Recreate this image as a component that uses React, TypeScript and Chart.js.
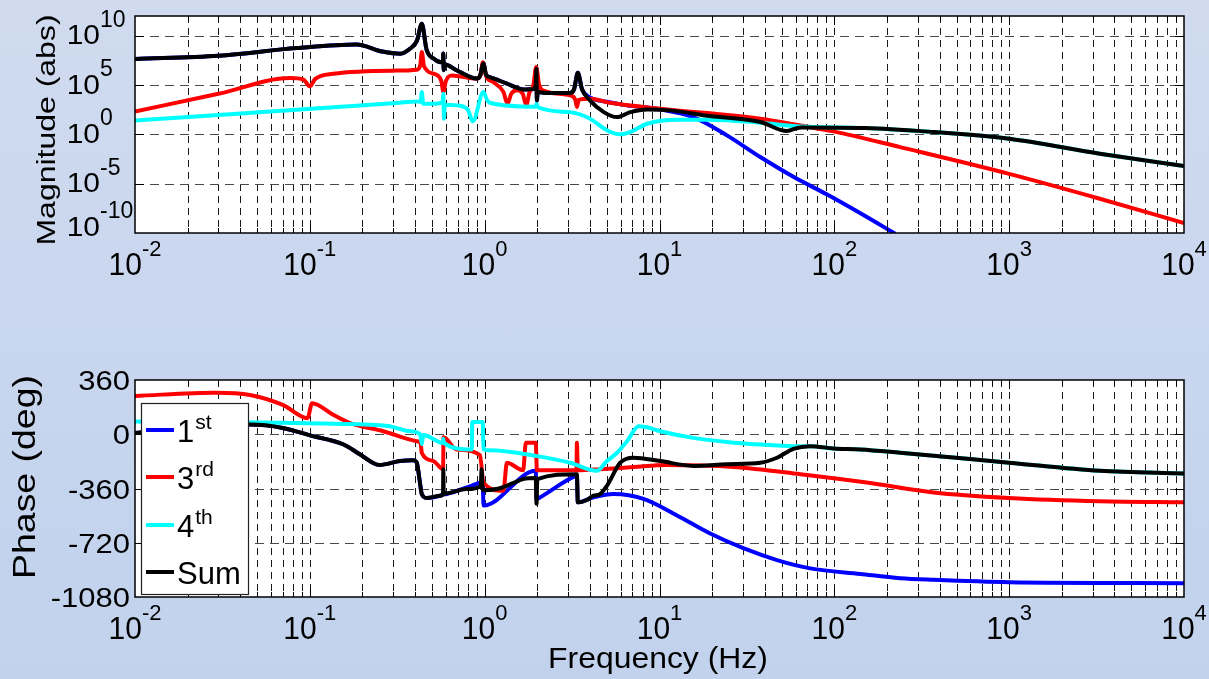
import React, { useEffect, useRef } from "react";
import { Chart, registerables } from "chart.js";

Chart.register(...registerables);

const W = 1209;
const H = 679;
const FONT = '"Liberation Sans", Arial, Helvetica, sans-serif';

// ---- axis settings ----
const freqMin = 0.01;
const freqMax = 10000;
const freqDecades = [-2, -1, 0, 1, 2, 3, 4];
const magMin = 1e-10;
const magMax = 1e12;
const magTickExps = [-10, -5, 0, 5, 10];
const phaseMin = -1080;
const phaseMax = 360;
const phaseTicks = [-1080, -720, -360, 0, 360];

// ---- series ----
const seriesBase = ["1", "3", "4", "Sum"];
const seriesSup = ["st", "rd", "th", ""];
const seriesColors = ["#0000ff", "#ff0000", "#00ffff", "#000000"];

// Magnitude (abs) : [Hz, value]
const magSum: [number, number][] = [
  [0.01, 4.4e7], [0.03, 9.5e7], [0.084, 5.6e8], [0.185, 1.3e9], [0.26, 2.5e8],
  [0.33, 1.5e8], [0.375, 5.0e8], [0.41, 3.2e9], [0.437, 1.6e11], [0.465, 4.0e8],
  [0.51, 4.8e7], [0.565, 2.0e7], [0.578, 2.0e7], [0.58, 1.6e8], [0.583, 3.2e6],
  [0.588, 1.3e7], [0.69, 3.2e6], [0.9, 4.5e5], [0.94, 7.9e5], [0.984, 1.5e7],
  [1.02, 1.0e6], [1.07, 6.3e5], [1.34, 1.4e5], [1.67, 3.6e4], [1.9, 4.0e4],
  [1.96, 1.0e5], [1.975, 4.6e6], [1.99, 2.8e3], [2.01, 2.0e4], [2.27, 1.6e4],
  [3.08, 1.6e4], [3.25, 4.0e4], [3.41, 1.8e6], [3.6, 4.0e4], [4.0, 2.8e3],
  [4.8, 1.8e2], [5.7, 56], [6.8, 1.8e2], [8.5, 3.4e2], [11.5, 2.7e2],
  [19.5, 72], [37.7, 18], [53.5, 2.2], [64, 5.0], [150, 4.4],
  [370, 1.7], [1000, 0.36], [3300, 1.1e-2], [10000, 6.2e-4],
];
const mag1st: [number, number][] = [
  [0.01, 4.4e7], [0.03, 9.5e7], [0.084, 5.6e8], [0.185, 1.3e9], [0.26, 2.5e8],
  [0.33, 1.5e8], [0.375, 5.0e8], [0.41, 3.2e9], [0.437, 1.6e11], [0.465, 4.0e8],
  [0.51, 4.8e7], [0.565, 2.0e7], [0.578, 2.0e7], [0.58, 1.6e8], [0.583, 3.2e6],
  [0.588, 1.3e7], [0.69, 3.2e6], [0.9, 4.5e5], [0.94, 7.9e5], [0.984, 1.5e7],
  [1.02, 1.0e6], [1.07, 6.3e5], [1.34, 1.4e5], [1.67, 3.6e4], [1.9, 4.0e4],
  [1.96, 1.0e5], [1.975, 4.6e6], [1.99, 2.8e3], [2.01, 2.0e4], [2.27, 1.6e4],
  [3.08, 1.6e4], [3.25, 4.0e4], [3.41, 1.8e6], [3.6, 4.0e4], [4.0, 5.6e3],
  [5.0, 2.0e3], [6.5, 8.7e2], [10.1, 3.4e2], [15.6, 56], [24.3, 0.79],
  [37.7, 5.0e-3], [58.3, 5.0e-5], [91, 7.9e-7], [141, 1.0e-8], [223, 8.5e-11],
];
const mag3rd: [number, number][] = [
  [0.01, 2.1e2], [0.03, 1.3e4], [0.077, 5.1e5], [0.092, 3.5e5], [0.1, 7.4e4],
  [0.107, 4.0e5], [0.136, 1.4e6], [0.314, 2.9e6], [0.41, 3.6e6], [0.428, 1.0e7],
  [0.437, 2.2e8], [0.45, 7.9e6], [0.53, 1.1e6], [0.565, 2.5e5], [0.581, 2.0e4],
  [0.6, 2.5e5], [0.65, 9.5e5], [0.9, 4.5e5], [0.95, 1.3e6], [0.976, 2.1e7],
  [1.02, 7.9e5], [1.12, 2.0e5], [1.28, 2.0e4], [1.35, 1.3e3], [1.42, 1.3e4],
  [1.53, 2.9e4], [1.65, 1.3e4], [1.73, 8.7e2], [1.8, 1.6e4], [1.9, 1.0e5],
  [1.97, 6.8e6], [2.05, 1.0e5], [2.15, 2.9e4], [3.08, 9.1e3], [3.3, 3.2e3],
  [3.37, 5.9e2], [3.45, 3.2e3], [4.0, 4.2e3], [5.2, 1.6e3], [10.1, 4.0e2],
  [37.7, 39], [64, 8.1], [99, 2.0], [238, 5.1e-2], [1000, 1.0e-4],
  [3300, 3.0e-7], [10000, 1.0e-9],
];
const mag4th: [number, number][] = [
  [0.01, 26], [0.314, 1.5e3], [0.41, 2.2e3], [0.43, 2.0e3], [0.437, 2.0e4],
  [0.445, 1.3e3], [0.53, 1.3e3], [0.575, 2.0e3], [0.58, 1.3e4], [0.585, 39],
  [0.592, 1.0e3], [0.69, 8.7e2], [0.8, 3.2e2], [0.855, 21], [0.984, 2.0e4],
  [1.03, 3.2e3], [1.07, 1.6e3], [1.95, 6.3e2], [1.98, 1.3e3], [2.02, 5.6e2],
  [3.08, 1.8e2], [4.0, 39], [5.0, 2.6], [5.96, 1.0], [6.8, 1.7],
  [8.5, 12], [12.6, 31], [19.5, 31], [37.7, 15], [64, 6.3],
  [150, 4.4], [370, 1.7], [1000, 0.36], [3300, 1.1e-2], [10000, 6.2e-4],
];

// Phase (deg) : [Hz, value]
const phaseSum: [number, number][] = [
  [0.01, 9], [0.02, 38], [0.0455, 64], [0.07, 42], [0.1, -7],
  [0.156, -68], [0.194, -134], [0.25, -204], [0.328, -178], [0.39, -173],
  [0.409, -189], [0.424, -300], [0.437, -397], [0.466, -423], [0.556, -408],
  [0.578, -400], [0.58, -232], [0.583, -395], [0.79, -364], [0.95, -345],
  [0.96, -232], [0.975, -372], [1.19, -362], [1.45, -325], [1.66, -298],
  [1.96, -291], [1.98, -462], [2.0, -298], [3.37, -265], [3.41, -452],
  [3.84, -436], [4.19, -408], [4.57, -397], [5.0, -342], [5.2, -309],
  [5.96, -189], [7.1, -156], [10.1, -178], [15.6, -210], [24.3, -199],
  [37.7, -189], [47, -156], [58.3, -97], [72.8, -79], [99, -94],
  [141, -101], [238, -123], [1000, -189], [3300, -243], [10000, -261],
];
const phase1st: [number, number][] = [
  [0.01, 9], [0.02, 38], [0.0455, 64], [0.07, 42], [0.1, -7],
  [0.156, -68], [0.194, -134], [0.25, -204], [0.328, -178], [0.39, -173],
  [0.409, -189], [0.424, -300], [0.437, -397], [0.466, -423], [0.556, -408],
  [0.578, -400], [0.6, -398], [0.84, -342], [0.975, -318], [0.985, -473],
  [1.96, -243], [1.98, -430], [2.07, -419], [3.3, -278], [3.37, -276],
  [3.41, -452], [4.19, -419], [5.45, -397], [8.1, -429], [12.6, -539],
  [19.5, -659], [30.4, -758], [47, -835], [72.8, -890], [141, -927],
  [238, -955], [370, -966], [1000, -982], [10000, -988],
];
const phase3rd: [number, number][] = [
  [0.01, 254], [0.029, 276], [0.0455, 261], [0.07, 195], [0.097, 107],
  [0.103, 206], [0.136, 129], [0.17, 74], [0.263, 20], [0.409, -46],
  [0.43, -60], [0.437, -123], [0.51, -178], [0.578, -232], [0.582, -20],
  [0.69, -101], [0.94, -138], [0.984, -320], [1.28, -375], [1.34, -189],
  [1.66, -239], [1.72, -57], [1.96, -57], [1.99, -239], [3.35, -239],
  [3.37, -57], [3.41, -239], [4.57, -232], [7.1, -217], [11, -204],
  [26.5, -217], [64, -265], [153, -320], [370, -386], [1000, -423],
  [3300, -445], [10000, -452],
];
const phase4th: [number, number][] = [
  [0.01, 85], [0.136, 70], [0.28, 55], [0.374, 20], [0.428, -2],
  [0.437, -66], [0.445, -5], [0.578, -57], [0.58, -30], [0.583, -57],
  [0.843, -101], [0.85, 81], [0.975, 81], [0.984, -101], [1.07, -107],
  [1.99, -145], [3.08, -189], [4.38, -243], [5.0, -178], [5.72, -123],
  [6.52, -46], [7.6, 53], [8.45, 46], [10.1, 20], [15.6, -24],
  [24.3, -51], [37.7, -68], [58.3, -79], [72.8, -80], [99, -94],
  [141, -101], [238, -123], [1000, -189], [3300, -243], [10000, -261],
];

// ---- layout (pixels) ----
const PLOT_LEFT = 135;
const PLOT_RIGHT = 1184;
const MAG_TOP = 16;
const MAG_BOTTOM = 233;
const PH_TOP = 380;
const PH_BOTTOM = 597;

type Kind = "mag" | "phase";

function drawText(
  ctx: CanvasRenderingContext2D,
  s: string,
  x: number,
  y: number,
  size: number,
  o: { sx?: number; sy?: number; align?: CanvasTextAlign; rot?: number } = {}
) {
  ctx.save();
  ctx.translate(x, y);
  if (o.rot) ctx.rotate(o.rot);
  ctx.scale(o.sx ?? 1, o.sy ?? 1);
  ctx.font = `${size}px ${FONT}`;
  ctx.textAlign = o.align ?? "left";
  ctx.textBaseline = "alphabetic";
  ctx.fillStyle = "#000";
  ctx.fillText(s, 0, 0);
  ctx.restore();
}

function measure(ctx: CanvasRenderingContext2D, s: string, size: number) {
  ctx.save();
  ctx.font = `${size}px ${FONT}`;
  const w = ctx.measureText(s).width;
  ctx.restore();
  return w;
}

function seg(ctx: CanvasRenderingContext2D, x1: number, y1: number, x2: number, y2: number) {
  ctx.beginPath();
  ctx.moveTo(x1, y1);
  ctx.lineTo(x2, y2);
  ctx.stroke();
}

function xGridValues() {
  const out: { v: number; major: boolean }[] = [];
  for (const d of freqDecades) {
    for (let m = 1; m <= 9; m++) {
      const v = m * Math.pow(10, d);
      if (v > freqMax * 1.0001) continue;
      out.push({ v, major: m === 1 });
    }
  }
  return out;
}

function yGridValues(kind: Kind) {
  return kind === "mag" ? magTickExps.map((e) => Math.pow(10, e)) : phaseTicks;
}

function panelPlugin(kind: Kind) {
  return {
    id: "panel-" + kind,
    beforeDatasetsDraw(chart: any) {
      const { ctx, chartArea: a } = chart;
      const xs = chart.scales.x;
      const ys = chart.scales.y;
      ctx.save();
      ctx.fillStyle = "#ffffff";
      ctx.fillRect(a.left, a.top, a.right - a.left, a.bottom - a.top);
      ctx.lineWidth = 1;
      ctx.strokeStyle = "#1a1a1a";
      ctx.setLineDash([7, 5]);
      for (const g of xGridValues()) {
        const px = xs.getPixelForValue(g.v);
        if (px < a.left + 1 || px > a.right - 1) continue;
        const x = Math.round(px) + 0.5;
        seg(ctx, x, a.top, x, a.bottom);
      }
      ctx.strokeStyle = "#4a4a4a";
      ctx.setLineDash([9, 6]);
      for (const v of yGridValues(kind)) {
        const py = ys.getPixelForValue(v);
        if (py < a.top + 1 || py > a.bottom - 1) continue;
        const y = Math.round(py) + 0.5;
        seg(ctx, a.left, y, a.right, y);
      }
      ctx.restore();
    },
    afterDatasetsDraw(chart: any) {
      const { ctx, chartArea: a } = chart;
      const xs = chart.scales.x;
      const ys = chart.scales.y;
      ctx.save();
      // inward tick marks
      ctx.setLineDash([]);
      ctx.strokeStyle = "#000";
      ctx.lineWidth = 1;
      for (const g of xGridValues()) {
        const px = xs.getPixelForValue(g.v);
        if (px < a.left + 1 || px > a.right - 1) continue;
        const x = Math.round(px) + 0.5;
        const L = g.major ? 9 : 5;
        seg(ctx, x, a.bottom, x, a.bottom - L);
        seg(ctx, x, a.top, x, a.top + L);
      }
      for (const v of yGridValues(kind)) {
        const py = ys.getPixelForValue(v);
        if (py < a.top + 1 || py > a.bottom - 1) continue;
        const y = Math.round(py) + 0.5;
        seg(ctx, a.left, y, a.left + 9, y);
        seg(ctx, a.right, y, a.right - 9, y);
      }
      // axes box
      ctx.lineWidth = 1.5;
      ctx.strokeRect(a.left, a.top, a.right - a.left, a.bottom - a.top);

      // x tick labels (10^n)
      for (const d of freqDecades) {
        const xc = xs.getPixelForValue(Math.pow(10, d));
        const exp = String(d);
        const wB = measure(ctx, "10", 30);
        const wE = measure(ctx, exp, 22);
        const x0 = xc - (wB + wE) / 2;
        drawText(ctx, "10", x0, a.bottom + 42, 30, { sy: 1.07 });
        drawText(ctx, exp, x0 + wB, a.bottom + 23, 22);
      }

      if (kind === "mag") {
        for (const e of magTickExps) {
          const gy = ys.getPixelForValue(Math.pow(10, e));
          const shift = e === magTickExps[0] ? -7 : -1;
          const wB = measure(ctx, "10", 30);
          drawText(ctx, "10", 100 - wB, gy + 9.5 + shift, 30, { sy: 0.9 });
          drawText(ctx, String(e), 100, gy - 8 + shift, 23);
        }
        drawText(ctx, "Magnitude (abs)", 55, 130, 26, { sx: 1.23, align: "center", rot: -Math.PI / 2 });
      } else {
        for (const v of phaseTicks) {
          const gy = ys.getPixelForValue(v);
          drawText(ctx, String(v), 130, gy + 10, 31, { sy: 0.9, align: "right" });
        }
        drawText(ctx, "Phase (deg)", 35, 477, 32, { sx: 1.17, align: "center", rot: -Math.PI / 2 });
        drawText(ctx, "Frequency (Hz)", 658, 668, 29, { sx: 1.1, align: "center" });

        // legend
        const bx = 141, by = 403, bw = 107, bh = 191;
        ctx.fillStyle = "#ffffff";
        ctx.fillRect(bx, by, bw, bh);
        ctx.lineWidth = 1.2;
        ctx.strokeStyle = "#222";
        ctx.strokeRect(bx + 0.5, by + 0.5, bw, bh);
        const rowY = [430, 477, 525, 572];
        seriesBase.forEach((label, i) => {
          const ly = rowY[i];
          ctx.strokeStyle = seriesColors[i];
          ctx.lineWidth = 4;
          seg(ctx, 146, ly, 174, ly);
          drawText(ctx, label, 177, ly + 12, 31);
          if (seriesSup[i]) {
            const wB = measure(ctx, label, 31);
            drawText(ctx, seriesSup[i], 177 + wB + 1, ly - 1, 21);
          }
        });
      }
      ctx.restore();
    },
  };
}

function buildChart(canvas: HTMLCanvasElement, kind: Kind) {
  const isMag = kind === "mag";
  const sets = isMag ? [mag1st, mag3rd, mag4th, magSum] : [phase1st, phase3rd, phase4th, phaseSum];
  const datasets = sets.map((pts, i) => ({
    label: seriesBase[i] + seriesSup[i],
    data: pts.map(([x, y]) => ({ x, y })),
    borderColor: seriesColors[i],
    backgroundColor: seriesColors[i],
    borderWidth: 4,
    pointRadius: 0,
    pointHoverRadius: 0,
    cubicInterpolationMode: "monotone" as const,
    fill: false,
    clip: 0,
    order: 3 - i,
  }));
  const top = isMag ? MAG_TOP : PH_TOP;
  const bottom = isMag ? MAG_BOTTOM : PH_BOTTOM;
  return new Chart(canvas, {
    type: "line",
    data: { datasets },
    options: {
      animation: false,
      responsive: false,
      devicePixelRatio: 1,
      events: [],
      layout: {
        padding: { left: PLOT_LEFT, right: W - PLOT_RIGHT, top, bottom: H - bottom },
      },
      plugins: { legend: { display: false }, tooltip: { enabled: false }, title: { display: false } },
      scales: {
        x: { type: "logarithmic", min: freqMin, max: freqMax, display: false },
        y: isMag
          ? { type: "logarithmic", min: magMin, max: magMax, display: false }
          : { type: "linear", min: phaseMin, max: phaseMax, display: false },
      },
    },
    plugins: [panelPlugin(kind)],
  } as any);
}

export default function App() {
  const topRef = useRef<HTMLCanvasElement>(null);
  const botRef = useRef<HTMLCanvasElement>(null);
  useEffect(() => {
    const c1 = buildChart(topRef.current as HTMLCanvasElement, "mag");
    const c2 = buildChart(botRef.current as HTMLCanvasElement, "phase");
    return () => {
      c1.destroy();
      c2.destroy();
    };
  }, []);
  const cstyle: React.CSSProperties = { position: "absolute", left: 0, top: 0, width: W, height: H };
  return (
    <div
      style={{
        position: "fixed",
        left: 0,
        top: 0,
        width: W,
        height: H,
        overflow: "hidden",
        background: "linear-gradient(180deg, #d0dbef 0%, #c8d6ee 50%, #c2d2ed 100%)",
      }}
    >
      <canvas ref={topRef} width={W} height={H} style={cstyle} />
      <canvas ref={botRef} width={W} height={H} style={cstyle} />
    </div>
  );
}
